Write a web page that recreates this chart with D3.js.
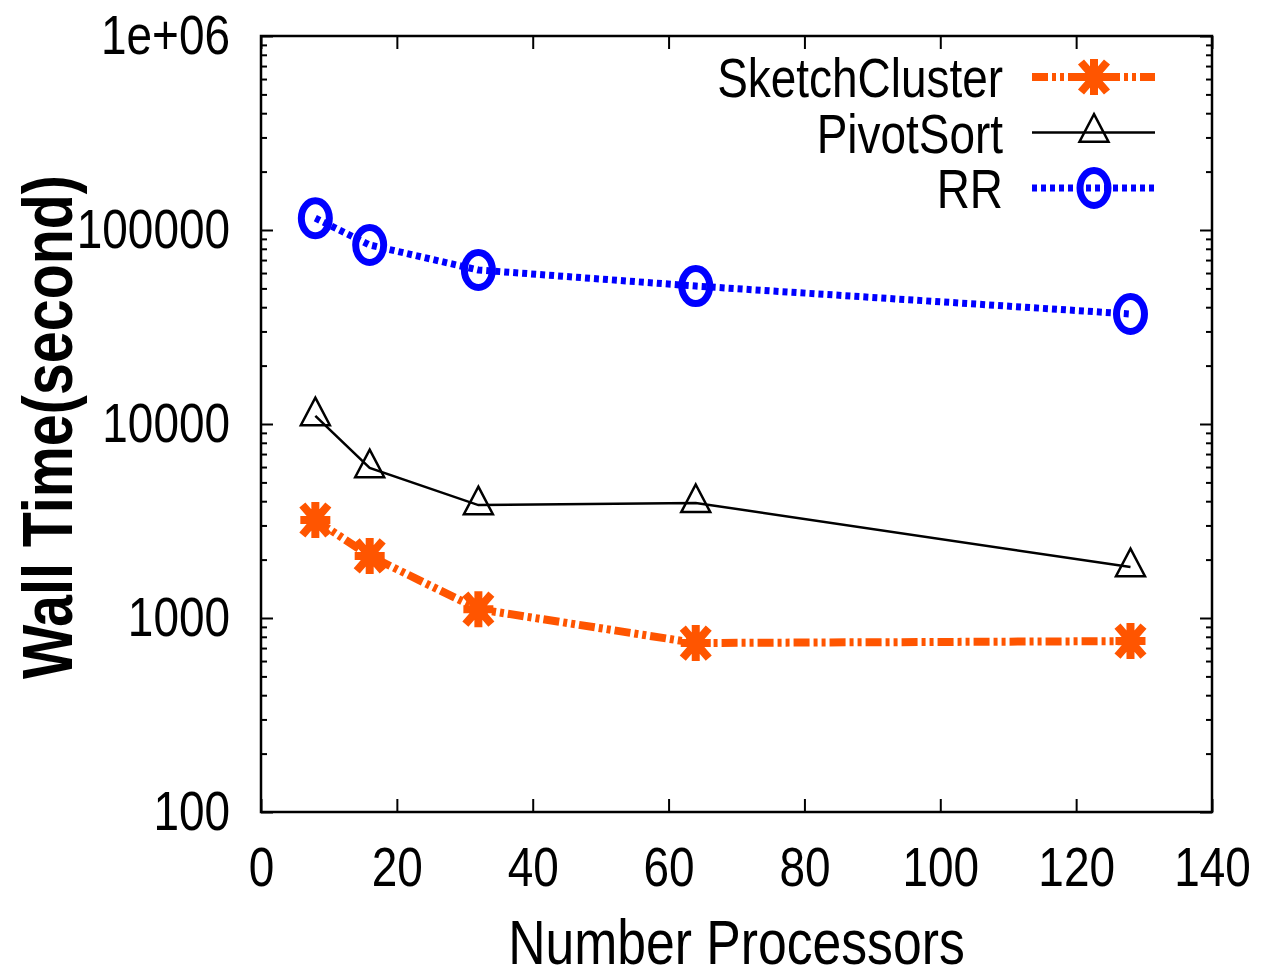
<!DOCTYPE html>
<html>
<head>
<meta charset="utf-8">
<script src="https://cdn.jsdelivr.net/npm/d3@7"></script>
<style>
  body { margin: 0; background: #fff; }
  text { font-family: "Liberation Sans", Arial, sans-serif; }
</style>
</head>
<body>
<div id="chart-area"></div>
<script>
// Data
var processors = [8, 16, 32, 64, 128];
var sketchCluster = [3200, 2090, 1110, 743, 760];
var pivotSort = [11000, 5930, 3820, 3920, 1830];
var rr = [115000, 83700, 62200, 51400, 36900];

var seriesNames = ["SketchCluster", "PivotSort", "RR"];
var xTicks = [0, 20, 40, 60, 80, 100, 120, 140];
var yTicks = [100, 1000, 10000, 100000, 1000000];
var yTickLabels = ["100", "1000", "10000", "100000", "1e+06"];

var margin = {
  left: 261,
  right: 52,
  top: 36,
  bottom: 161
};

var width = 1264 - margin.left - margin.right;
var height = 973 - margin.top - margin.bottom;

var svg = d3.select("#chart-area")
  .append("svg")
  .attr("width", width + margin.left + margin.right)
  .attr("height", height + margin.top + margin.bottom);

var g = svg.append("g")
  .attr("transform", "translate(" + margin.left + "," + margin.top + ")");

// Scales
var x = d3.scaleLinear()
  .domain([0, 140])
  .range([0, width]);

var y = d3.scaleLog()
  .domain([100, 1000000])
  .range([height, 0]);

// Minor ticks 2..9 in each decade
var minorTicks = y.ticks().filter(function(d) {
  return yTicks.indexOf(d) < 0;
});

function styleAxis(sel) {
  sel.select(".domain").remove();
  sel.selectAll("line").attr("stroke", "#000").attr("stroke-width", 2);
  sel.selectAll("text")
    .attr("font-size", "56px")
    .attr("fill", "#000");
  sel.attr("font-family", null).attr("font-size", null);
}

// Left axis (major + minor)
g.append("g")
  .call(d3.axisLeft(y).tickValues(yTicks).tickSize(-12).tickPadding(31)
    .tickFormat(function(d, i) { return yTickLabels[i]; }))
  .call(styleAxis);

g.append("g")
  .call(d3.axisLeft(y).tickValues(minorTicks).tickSize(-6).tickFormat(""))
  .call(styleAxis);

// Right axis ticks
g.append("g")
  .attr("transform", "translate(" + width + ",0)")
  .call(d3.axisRight(y).tickValues(yTicks).tickSize(-12).tickFormat(""))
  .call(styleAxis);

g.append("g")
  .attr("transform", "translate(" + width + ",0)")
  .call(d3.axisRight(y).tickValues(minorTicks).tickSize(-6).tickFormat(""))
  .call(styleAxis);

// Bottom axis
g.append("g")
  .attr("transform", "translate(0," + height + ")")
  .call(d3.axisBottom(x).tickValues(xTicks).tickSize(-13).tickPadding(34))
  .call(styleAxis);

// Top axis ticks
g.append("g")
  .call(d3.axisTop(x).tickValues(xTicks).tickSize(-13).tickFormat(""))
  .call(styleAxis);

// Frame
g.append("rect")
  .attr("width", width)
  .attr("height", height)
  .attr("fill", "none")
  .attr("stroke", "#000")
  .attr("stroke-width", 2.5);

// Series styles
var orange = "#ff5500";
var blue = "#0000ff";

var line = d3.line()
  .x(function(d) { return x(d[0]); })
  .y(function(d) { return y(d[1]); });

function pairs(vals) {
  return processors.map(function(p, i) { return [p, vals[i]]; });
}

var starPath = "M0,-18V18M-15,0H15M-13,-15L13,15M-13,15L13,-15";
var triPath = "M0,-18.4L14.5,9.2L-14.5,9.2Z";

function drawStar(sel) {
  sel.append("path")
    .attr("d", starPath)
    .attr("fill", "none")
    .attr("stroke", orange)
    .attr("stroke-width", 8);
}

function drawTri(sel) {
  sel.append("path")
    .attr("d", triPath)
    .attr("fill", "none")
    .attr("stroke", "#000")
    .attr("stroke-width", 2.5)
    .attr("stroke-linejoin", "miter");
}

function drawCircle(sel) {
  sel.append("ellipse")
    .attr("rx", 14)
    .attr("ry", 17.5)
    .attr("fill", "none")
    .attr("stroke", blue)
    .attr("stroke-width", 7);
}

var series = [
  { name: seriesNames[0], values: sketchCluster, color: orange, width: 8, dash: "16,4,4,4,4,4", marker: drawStar },
  { name: seriesNames[1], values: pivotSort, color: "#000", width: 2.5, dash: null, marker: drawTri },
  { name: seriesNames[2], values: rr, color: blue, width: 7, dash: "5,4", marker: drawCircle }
];

series.forEach(function(s, k) {
  g.append("path")
    .datum(pairs(s.values))
    .attr("d", line)
    .attr("fill", "none")
    .attr("stroke", s.color)
    .attr("stroke-width", s.width)
    .attr("stroke-dasharray", s.dash);

  g.selectAll(".pt" + k)
    .data(pairs(s.values))
    .enter()
    .append("g")
    .attr("class", "pt" + k)
    .attr("transform", function(d) {
      return "translate(" + x(d[0]) + "," + y(d[1]) + ")";
    })
    .each(function() { s.marker(d3.select(this)); });

  // Legend
  var ly = 41 + k * 55.5;
  var lg = g.append("g");
  lg.append("text")
    .attr("x", 742)
    .attr("y", ly)
    .attr("dy", "0.36em")
    .attr("text-anchor", "end")
    .attr("font-size", "56px")
    .text(s.name);
  lg.append("line")
    .attr("x1", 771)
    .attr("x2", 894)
    .attr("y1", ly)
    .attr("y2", ly)
    .attr("stroke", s.color)
    .attr("stroke-width", s.width)
    .attr("stroke-dasharray", s.dash);
  var m = lg.append("g").attr("transform", "translate(833," + ly + ")");
  s.marker(m);
});

// X label
g.append("text")
  .attr("x", width / 2)
  .attr("y", height + 152)
  .attr("text-anchor", "middle")
  .attr("font-size", "63px")
  .text("Number Processors");

// Y label
g.append("text")
  .attr("x", -(height / 2) - 3)
  .attr("y", -189)
  .attr("transform", "rotate(-90)")
  .attr("text-anchor", "middle")
  .attr("font-size", "70px")
  .attr("font-weight", "bold")
  .text("Wall Time(second)");

// Narrow glyphs like the original terminal font
svg.selectAll("text").each(function() {
  var w = this.getComputedTextLength();
  d3.select(this)
    .attr("textLength", w * 0.82)
    .attr("lengthAdjust", "spacingAndGlyphs");
});
</script>
</body>
</html>
